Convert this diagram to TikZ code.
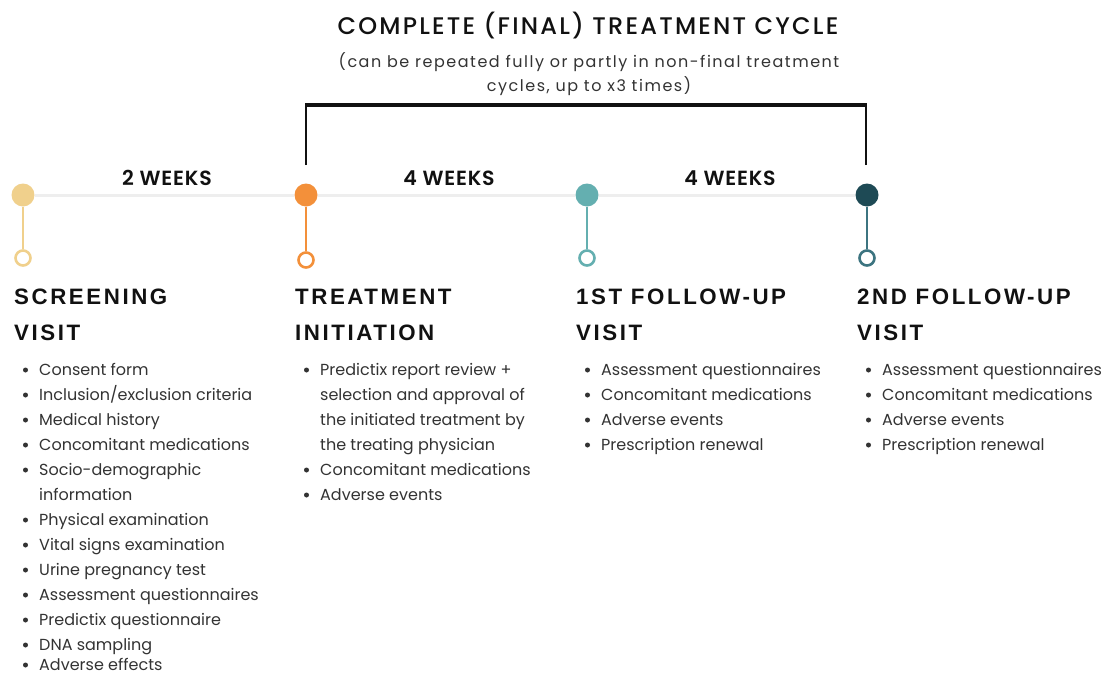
\documentclass[tikz,border=0pt]{standalone}
\usepackage{fontspec}
\setmainfont{Poppins}
\newfontfamily\headfont[LetterSpace=11.5]{Liberation Sans}
\newfontfamily\titlefont[LetterSpace=9.2]{Poppins Medium}
\newfontfamily\subfont[LetterSpace=9.5]{Poppins}
\newfontfamily\weekfont[LetterSpace=4]{Poppins SemiBold}
\definecolor{sand}{HTML}{F0D08C}
\definecolor{orng}{HTML}{F3903A}
\definecolor{teal}{HTML}{64AFB0}
\definecolor{deep}{HTML}{1E4A55}
\definecolor{deepstem}{HTML}{3C7480}
\definecolor{track}{HTML}{EEEEEE}
\definecolor{body}{HTML}{333333}
\definecolor{ink}{HTML}{111111}
\tikzset{
  dot/.style={circle, fill=#1, minimum size=23pt, inner sep=0pt},
  ring/.style={circle, draw=#1, line width=2.6pt, fill=white, minimum size=15pt, inner sep=0pt},
  stem/.style={draw=#1, line width=2.6pt},
  weeks/.style={font=\weekfont\fontsize{20.5}{24}\selectfont, text=ink},
  head/.style={anchor=base west, font=\headfont\bfseries\fontsize{22.3}{26}\selectfont, text=ink, inner sep=0pt},
  item/.style={anchor=base west, font=\fontsize{16}{18}\selectfont, text=body, inner sep=0pt},
  bul/.style={circle, fill=body, minimum size=5pt, inner sep=0pt},
}
\begin{document}
\begin{tikzpicture}[x=1pt, y=-1pt]
\useasboundingbox[fill=white] (0,0) rectangle (1103,675);

% heading of the treatment cycle
\node[font=\titlefont\fontsize{24}{28}\selectfont, text=ink] (title) at (588,26) {COMPLETE (FINAL) TREATMENT CYCLE};
\node[font=\subfont\fontsize{16}{24}\selectfont, text=body, align=center] (sub) at (589,74)
  {(can be repeated fully or partly in non-final treatment\\cycles, up to x3 times)};

% timeline points
\node[dot=sand] (p1) at (23,195) {};
\node[dot=orng] (p2) at (306,195) {};
\node[dot=teal] (p3) at (587,195) {};
\node[dot=deep] (p4) at (867,195) {};
\node[ring=sand] (r1) at (23,258) {};
\node[ring=orng] (r2) at (306,260) {};
\node[ring=teal] (r3) at (587,258) {};
\node[ring=deepstem] (r4) at (867,258) {};

% track and stems
\draw[track, line width=3pt] (p1) -- (p2) -- (p3) -- (p4);
\draw[stem=sand] (p1) -- (r1);
\draw[stem=orng] (p2) -- (r2);
\draw[stem=teal] (p3) -- (r3);
\draw[stem=deepstem] (p4) -- (r4);

% bracket over the cycle
\coordinate (b1) at (306,165);
\coordinate (b2) at (866,165);
\coordinate (c1) at (306,105);
\coordinate (c2) at (866,105);
\draw[ink, line width=2pt] (b1) -- (c1);
\draw[ink, line width=2pt] (b2) -- (c2);
\draw[ink, line width=3.5pt] ([xshift=-1pt]c1) -- ([xshift=1pt]c2);

% intervals
\node[weeks] (w1) at (167,178) {2 WEEKS};
\node[weeks] (w2) at (449,178) {4 WEEKS};
\node[weeks] (w3) at (730,178) {4 WEEKS};

% visit headings
\node[head] (h1a) at (14,304) {SCREENING};
\node[head] (h1b) at (14,340) {VISIT};
\node[head] (h2a) at (295,304) {TREATMENT};
\node[head] (h2b) at (295,340) {INITIATION};
\node[head] (h3a) at (576,304) {1ST FOLLOW-UP};
\node[head] (h3b) at (576,340) {VISIT};
\node[head] (h4a) at (857,304) {2ND FOLLOW-UP};
\node[head] (h4b) at (857,340) {VISIT};

% item lists
\foreach \x/\y/\t/\b in {
  14/369/Consent form/1, 14/394/Inclusion\slash exclusion criteria/1, 14/419/Medical history/1,
  14/444/Concomitant medications/1, 14/469/Socio-demographic/1, 14/494/information/0,
  14/519/Physical examination/1, 14/544/Vital signs examination/1, 14/569/Urine pregnancy test/1,
  14/594/Assessment questionnaires/1, 14/619/Predictix questionnaire/1, 14/644/DNA sampling/1,
  14/664/Adverse effects/1,
  295/369/Predictix report review +/1, 295/394/selection and approval of/0,
  295/419/the initiated treatment by/0, 295/444/the treating physician/0,
  295/469/Concomitant medications/1, 295/494/Adverse events/1,
  576/369/Assessment questionnaires/1, 576/394/Concomitant medications/1,
  576/419/Adverse events/1, 576/444/Prescription renewal/1,
  857/369/Assessment questionnaires/1, 857/394/Concomitant medications/1,
  857/419/Adverse events/1, 857/444/Prescription renewal/1}{
  \node[item] at (\x+25,\y+6.5) {\t};
  \ifnum\b=1 \node[bul] at (\x+11.5,\y+1) {};\fi
}
\end{tikzpicture}
\end{document}
